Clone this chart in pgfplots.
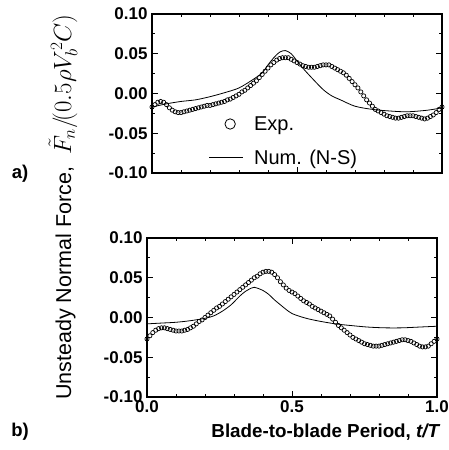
\documentclass[border=0pt]{standalone}
\usepackage{pgfplots}
\pgfplotsset{compat=1.18}
\usepackage{fontspec}
\setmainfont{Liberation Sans}

\pgfplotsset{
  panel/.style={
    scale only axis, width=290pt, height=159pt,
    xmin=0, xmax=1, ymin=-0.1, ymax=0.1,
    axis line style={line width=2pt},
    tick align=inside, tick pos=both,
    major tick length=6pt, minor tick length=3pt,
    every tick/.style={black, line width=1pt},
    xtick={0,0.5,1}, minor xtick={0.1,0.2,0.3,0.4,0.6,0.7,0.8,0.9},
    ytick={-0.1,-0.05,0,0.05,0.1},
    yticklabels={-0.10,-0.05,0.00,0.05,0.10},
    minor ytick={-0.075,-0.025,0.025,0.075},
    tick label style={font=\bfseries\fontsize{17}{17}\selectfont},
    yticklabel style={xshift=-1pt},
    clip=false,
  },
  expstyle/.style={only marks, mark=o, mark size=2.1pt, mark options={line width=0.7pt, black}},
  numstyle/.style={black, line width=0.8pt, smooth, no marks},
  expleg/.style={legend image code/.code={\path[draw=none] (0cm,-5pt) rectangle (43pt,5pt);\draw[black, line width=0.8pt] (21pt,0cm) circle (5.2pt);}},
  numleg/.style={legend image code/.code={\path[draw=none] (0cm,-5pt) rectangle (43pt,5pt);\draw[#1] (0cm,0cm) -- (34pt,0cm);}},
}

\begin{document}
\begin{tikzpicture}
\path[use as bounding box] (0,0) rectangle (449pt,450pt);

% ---------------- panel a ----------------
\begin{axis}[panel, at={(152pt,277pt)}, anchor=south west,
  xticklabels={},
  legend style={draw=none, fill=none, at={(0.195,0.37)}, anchor=north west,
    font=\fontsize{20}{20}\selectfont, row sep=14pt, inner sep=0pt,
    nodes={inner sep=2pt}},
  legend cell align=left]
\addplot[expstyle, expleg] coordinates {
(0.00,-0.017)(0.01,-0.014)(0.02,-0.011)(0.03,-0.010)(0.04,-0.011)(0.05,-0.014)
(0.06,-0.018)(0.07,-0.021)(0.08,-0.023)(0.09,-0.024)(0.10,-0.024)(0.11,-0.023)
(0.12,-0.022)(0.13,-0.021)(0.14,-0.020)(0.15,-0.019)(0.16,-0.018)(0.17,-0.017)
(0.18,-0.016)(0.19,-0.015)(0.20,-0.015)(0.21,-0.014)(0.22,-0.013)(0.23,-0.012)
(0.24,-0.011)(0.25,-0.010)(0.26,-0.008)(0.27,-0.007)(0.28,-0.005)(0.29,-0.003)
(0.30,-0.001)(0.31,0.002)(0.32,0.004)(0.33,0.007)(0.34,0.010)(0.35,0.013)
(0.36,0.016)(0.37,0.020)(0.38,0.024)(0.39,0.028)(0.40,0.032)(0.41,0.036)
(0.42,0.039)(0.43,0.042)(0.44,0.044)(0.45,0.045)(0.46,0.045)(0.47,0.045)
(0.48,0.043)(0.49,0.041)(0.50,0.039)(0.51,0.037)(0.52,0.035)(0.53,0.034)
(0.54,0.033)(0.55,0.033)(0.56,0.033)(0.57,0.034)(0.58,0.035)(0.59,0.036)
(0.60,0.036)(0.61,0.036)(0.62,0.034)(0.63,0.032)(0.64,0.030)(0.65,0.028)
(0.66,0.026)(0.67,0.023)(0.68,0.019)(0.69,0.015)(0.70,0.011)(0.71,0.007)
(0.72,0.002)(0.73,-0.003)(0.74,-0.008)(0.75,-0.012)(0.76,-0.016)(0.77,-0.020)
(0.78,-0.022)(0.79,-0.024)(0.80,-0.026)(0.81,-0.028)(0.82,-0.029)(0.83,-0.030)
(0.84,-0.031)(0.85,-0.031)(0.86,-0.030)(0.87,-0.029)(0.88,-0.028)(0.89,-0.028)
(0.90,-0.028)(0.91,-0.029)(0.92,-0.030)(0.93,-0.031)(0.94,-0.032)(0.95,-0.031)
(0.96,-0.029)(0.97,-0.027)(0.98,-0.024)(0.99,-0.020)(1.00,-0.017)
};
\addlegendentry{Exp.}
\addplot[numstyle, numleg] coordinates {
(0.00,-0.017)(0.05,-0.013)(0.10,-0.010)(0.15,-0.008)(0.20,-0.004)(0.25,0.001)
(0.30,0.007)(0.35,0.018)(0.38,0.026)(0.40,0.036)(0.42,0.045)(0.44,0.052)
(0.46,0.054)(0.48,0.050)(0.50,0.041)(0.52,0.032)(0.55,0.020)(0.59,0.005)
(0.62,-0.003)(0.65,-0.008)(0.70,-0.016)(0.76,-0.020)(0.82,-0.022)(0.88,-0.023)
(0.95,-0.021)(1.00,-0.018)
};
\addlegendentry{Num. (N-S)}
\end{axis}

% ---------------- panel b ----------------
\begin{axis}[panel, at={(147pt,53pt)}, anchor=south west,
  xticklabels={0.0,0.5,1.0}]
\addplot[expstyle] coordinates {
(0.00,-0.027)(0.01,-0.023)(0.02,-0.019)(0.03,-0.016)(0.04,-0.014)(0.05,-0.013)
(0.06,-0.013)(0.07,-0.014)(0.08,-0.015)(0.09,-0.016)(0.10,-0.017)(0.11,-0.017)
(0.12,-0.017)(0.13,-0.016)(0.14,-0.015)(0.15,-0.013)(0.16,-0.011)(0.17,-0.008)
(0.18,-0.005)(0.19,-0.003)(0.20,0.000)(0.21,0.003)(0.22,0.006)(0.23,0.009)
(0.24,0.012)(0.25,0.014)(0.26,0.017)(0.27,0.020)(0.28,0.023)(0.29,0.026)
(0.30,0.029)(0.31,0.032)(0.32,0.035)(0.33,0.038)(0.34,0.041)(0.35,0.044)
(0.36,0.047)(0.37,0.050)(0.38,0.052)(0.39,0.055)(0.40,0.057)(0.41,0.058)
(0.42,0.058)(0.43,0.057)(0.44,0.054)(0.45,0.050)(0.46,0.045)(0.47,0.041)
(0.48,0.037)(0.49,0.034)(0.50,0.032)(0.51,0.030)(0.52,0.027)(0.53,0.024)
(0.54,0.021)(0.55,0.019)(0.56,0.017)(0.57,0.014)(0.58,0.012)(0.59,0.010)
(0.60,0.008)(0.61,0.006)(0.62,0.004)(0.63,0.002)(0.64,-0.002)(0.65,-0.006)
(0.66,-0.010)(0.67,-0.013)(0.68,-0.016)(0.69,-0.019)(0.70,-0.022)(0.71,-0.025)
(0.72,-0.027)(0.73,-0.029)(0.74,-0.031)(0.75,-0.033)(0.76,-0.034)(0.77,-0.035)
(0.78,-0.036)(0.79,-0.036)(0.80,-0.036)(0.81,-0.035)(0.82,-0.034)(0.83,-0.033)
(0.84,-0.032)(0.85,-0.031)(0.86,-0.030)(0.87,-0.029)(0.88,-0.028)(0.89,-0.028)
(0.90,-0.029)(0.91,-0.030)(0.92,-0.032)(0.93,-0.034)(0.94,-0.036)(0.95,-0.037)
(0.96,-0.037)(0.97,-0.036)(0.98,-0.033)(0.99,-0.030)(1.00,-0.027)
};
\addplot[numstyle] coordinates {
(0.00,-0.008)(0.05,-0.007)(0.10,-0.006)(0.15,-0.004)(0.20,-0.001)(0.23,0.002)
(0.26,0.008)(0.29,0.016)(0.32,0.027)(0.34,0.033)(0.36,0.037)(0.37,0.038)
(0.38,0.037)(0.40,0.034)(0.42,0.029)(0.44,0.022)(0.46,0.016)(0.48,0.010)
(0.50,0.005)(0.53,0.001)(0.56,-0.002)(0.60,-0.005)(0.65,-0.008)(0.70,-0.010)
(0.76,-0.012)(0.82,-0.013)(0.88,-0.013)(0.94,-0.012)(1.00,-0.011)
};
\end{axis}

% labels
\node[rotate=90, font=\fontsize{21.5}{22}\selectfont] at (63pt,243pt)
  {Unsteady Normal Force,\ \ {\fontsize{25}{25}\selectfont$\tilde{F}_n\Big/\!\Bigl(0.5\rho V_b^2 C\Bigr)$}};
\node[font=\bfseries\fontsize{18.5}{19}\selectfont] at (20pt,276pt) {a)};
\node[font=\bfseries\fontsize{18.5}{19}\selectfont] at (20pt,18pt) {b)};
\node[anchor=east, font=\bfseries\fontsize{18.8}{19}\selectfont] at (444pt,18pt)
  {Blade-to-blade Period, \textit{t/T}};
\end{tikzpicture}
\end{document}
